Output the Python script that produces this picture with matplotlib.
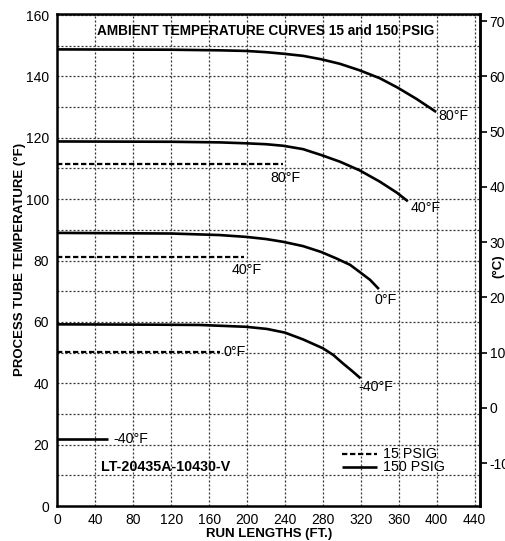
import matplotlib
matplotlib.use("Agg")
import matplotlib.pyplot as plt

plt.rcParams['font.family'] = ['Liberation Sans', 'DejaVu Sans']
plt.rcParams['axes.unicode_minus'] = False

# ---- data ----
# 150 PSIG curves (solid)
c80_x = [0, 120, 171, 199, 220, 238, 259, 278, 298, 318.6, 340, 359, 379, 399.4]
c80_y = [148.8, 148.7, 148.5, 148.3, 147.9, 147.4, 146.7, 145.6, 144.1, 142.0, 139.4, 136.3, 132.6, 128.4]
c40_x = [0, 120, 171, 199, 220, 238, 259, 278, 298, 318.6, 340, 358, 369.5]
c40_y = [118.8, 118.7, 118.5, 118.2, 117.9, 117.4, 116.3, 114.4, 112.2, 109.4, 105.7, 102.1, 99.3]
c0_x = [0, 120, 171, 199, 220, 238, 259, 278, 294, 308.6, 318.6, 329.7, 339]
c0_y = [89.0, 88.8, 88.3, 87.7, 87.0, 86.1, 84.7, 82.8, 80.7, 78.6, 76.3, 73.7, 70.7]
cm40_x = [0, 100, 150, 199, 221, 240, 259, 280, 291, 301, 310.4, 319.7]
cm40_y = [59.2, 59.1, 59.0, 58.4, 57.7, 56.5, 54.3, 51.4, 49.2, 46.5, 44.1, 41.6]
cm40b_x = [0, 53]
cm40b_y = [21.8, 21.8]

# 15 PSIG lines (dashed)
d80_x = [0, 238]
d80_y = [111.3, 111.3]
d40_x = [0, 197]
d40_y = [81.2, 81.2]
d0_x = [0, 171]
d0_y = [50.3, 50.3]

x_ticks = [0, 40, 80, 120, 160, 200, 240, 280, 320, 360, 400, 440]
y_ticks = [0, 20, 40, 60, 80, 100, 120, 140, 160]
c_ticks = [-10, 0, 10, 20, 30, 40, 50, 60, 70]

W, H = 506, 541
fig = plt.figure(figsize=(W / 100, H / 100), dpi=100)
ax = fig.add_axes([57.3 / W, (H - 506) / H, (480 - 57.3) / W, (506 - 13.5) / H])
ax.set_xlim(0, 445.6)
ax.set_ylim(0, 160.5)

# grid
gkw = dict(color='#333333', lw=0.9, ls=(0, (1.6, 1.6)), zorder=1)
for gx in range(40, 441, 40):
    ax.axvline(gx, **gkw)
for gy in range(10, 161, 10):
    ax.axhline(gy, **gkw)

skw = dict(color='black', lw=1.9, solid_capstyle='butt', solid_joinstyle='round', zorder=3)
ax.plot(c80_x, c80_y, **skw)
ax.plot(c40_x, c40_y, **skw)
ax.plot(c0_x, c0_y, **skw)
ax.plot(cm40_x, cm40_y, **skw)
ax.plot(cm40b_x, cm40b_y, **skw)

dkw = dict(color='black', lw=1.6, ls=(0, (2.4, 1.2)), zorder=3)
ax.plot(d80_x, d80_y, **dkw)
ax.plot(d40_x, d40_y, **dkw)
ax.plot(d0_x, d0_y, **dkw)

tkw = dict(fontsize=10.3, va='center', zorder=4)
ax.text(402, 127.2, '80°F', ha='left', **tkw)
ax.text(372, 97.2, '40°F', ha='left', **tkw)
ax.text(346, 67.1, '0°F', ha='center', **tkw)
ax.text(317, 38.7, '-40°F', ha='left', **tkw)
ax.text(59, 21.8, '-40°F', ha='left', **tkw)
ax.text(240, 107.0, '80°F', ha='center', **tkw)
ax.text(200, 76.9, '40°F', ha='center', **tkw)
ax.text(175, 50.3, '0°F', ha='left', **tkw)

ax.text(220, 154.7, 'AMBIENT TEMPERATURE CURVES 15 and 150 PSIG',
        ha='center', va='center', fontsize=9.8, fontweight='bold', zorder=4)
ax.text(114, 12.6, 'LT-20435A-10430-V', ha='center', va='center',
        fontsize=10.3, fontweight='bold', zorder=4)

# legend (drawn manually to match position)
ax.plot([300, 337], [16.9, 16.9], **dkw)
ax.plot([300, 337], [12.7, 12.7], **skw)
ax.text(343, 16.9, '15 PSIG', ha='left', **tkw)
ax.text(343, 12.7, '150 PSIG', ha='left', **tkw)

ax.set_xticks(x_ticks)
ax.set_yticks(y_ticks)
ax.tick_params(axis='both', length=0, labelsize=10, pad=5)
ax.tick_params(axis='y', pad=6)
for s in ax.spines.values():
    s.set_linewidth(1.8)

ax.set_xlabel('RUN LENGTHS (FT.)', fontsize=9.5, fontweight='bold', labelpad=1)
ax.set_ylabel('PROCESS TUBE TEMPERATURE (°F)', fontsize=9.5, fontweight='bold', labelpad=0)

sec = ax.secondary_yaxis('right', functions=(lambda f: (f - 32) / 1.8, lambda c: c * 1.8 + 32))
sec.set_yticks(c_ticks)
sec.tick_params(length=5, width=1.2, labelsize=10, pad=2)
sec.spines['right'].set_linewidth(1.8)
fig.text(498 / W, 1 - 266 / H, '(°C)', rotation=90, ha='center', va='center',
         fontsize=9.5, fontweight='bold')

fig.savefig('out.png', dpi=100)
